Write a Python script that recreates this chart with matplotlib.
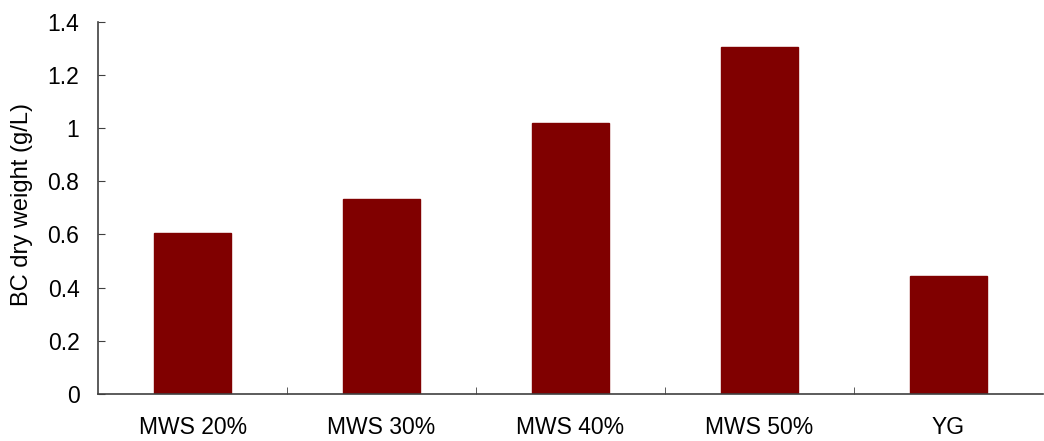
import matplotlib.pyplot as plt
import numpy as np

plt.rcParams['font.family'] = ['Liberation Sans', 'DejaVu Sans']

categories = ["MWS 20%", "MWS 30%", "MWS 40%", "MWS 50%", "YG"]
dry_weight = [0.605, 0.735, 1.018, 1.307, 0.443]
y_ticks = [0, 0.2, 0.4, 0.6, 0.8, 1, 1.2, 1.4]
y_tick_labels = ["0", "0.2", "0.4", "0.6", "0.8", "1", "1.2", "1.4"]

fig = plt.figure(figsize=(10.44, 4.41), dpi=100)
ax = fig.add_axes([0.094, 0.107, 0.905, 0.843])

x = np.arange(len(categories))
ax.bar(x, dry_weight, width=0.405, color="#800000", edgecolor="#800000")

ax.set_xlim(-0.5, len(categories) - 0.5)
ax.set_ylim(0, 1.4)
ax.set_yticks(y_ticks)
ax.set_yticklabels(y_tick_labels, fontsize=16.5)
ax.set_xticks(x)
ax.set_xticklabels(categories, fontsize=16.5)
ax.set_xticks(x[:-1] + 0.5, minor=True)
ax.tick_params(axis="x", which="major", length=0, pad=16)
ax.tick_params(axis="x", which="minor", direction="in", length=5, color="#404040")
ax.tick_params(axis="y", direction="in", length=5, color="#404040", pad=13.5)

# y label placed in figure coords to match the original position
fig.text(22 / 1044, 1 - 205 / 441, "BC dry weight (g/L)", rotation=90,
         ha="center", va="center", fontsize=17)

for s in ["top", "right"]:
    ax.spines[s].set_visible(False)
for s in ["left", "bottom"]:
    ax.spines[s].set_color("#404040")
    ax.spines[s].set_linewidth(1.2)

fig.savefig("out.png", dpi=100)
